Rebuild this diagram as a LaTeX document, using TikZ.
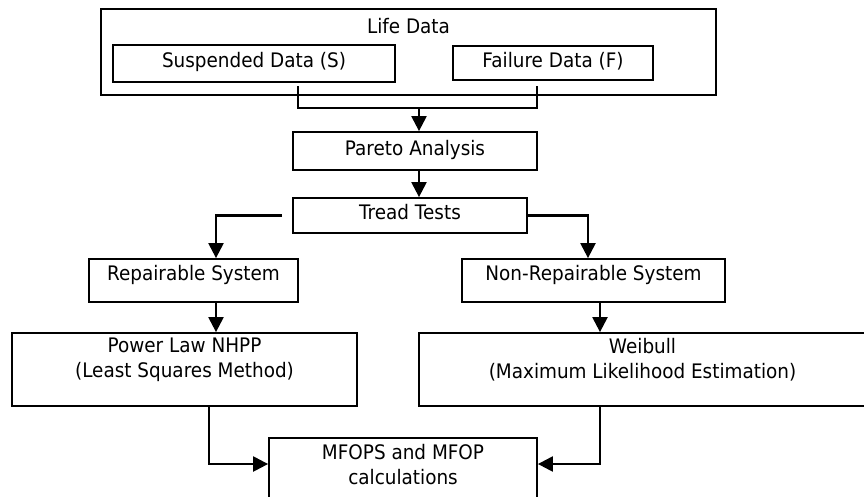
\documentclass[tikz,border=0pt]{standalone}
\usepackage{fontspec}
\setmainfont{DejaVu Sans}[FakeStretch=0.92]
\usetikzlibrary{arrows.meta,positioning}

\begin{document}
\begin{tikzpicture}[x=1pt,y=-1pt,
    every node/.style={font=\fontsize{20}{25}\selectfont},
    box/.style={draw,line width=1.8pt,inner sep=0pt,text height=14.6pt,text depth=6pt},
    flow/.style={line width=2.3pt,-{Triangle[length=15pt,width=15pt]}},
    link/.style={line width=2.3pt}]
    \useasboundingbox (0,0) rectangle (864,496);
    % data boxes
    \node[box,minimum width=615pt,minimum height=86pt] (life) at (408.5,52) {};
    \node[below=10pt of life.north,inner sep=0pt] (lifetxt) {Life Data};
    \node[box,minimum width=282pt,minimum height=37pt] (susp) at (254,63.5) {Suspended Data (S)};
    \node[box,minimum width=200pt,minimum height=34pt] (fail) at (553,63) {Failure Data (F)};
    \node[box,minimum width=244pt,minimum height=38pt] (pareto) at (415,151) {Pareto Analysis};
    \node[box,minimum width=234pt,minimum height=35pt] (tread) at (410,215.5) {Tread Tests};
    \node[box,text depth=15pt,minimum width=209pt,minimum height=43pt] (rep) at (193.5,280.5) {Repairable System};
    \node[box,text depth=15pt,minimum width=263pt,minimum height=43pt] (nonrep) at (593.5,280.5) {Non-Repairable System};
    % models
    \node[box,minimum width=345pt,minimum height=73pt] (power) at (184.5,369.5) {};
    \node[below=6pt of power.north,inner sep=0pt,align=center] (powertxt) {Power Law NHPP\\(Least Squares Method)};
    \node[box,minimum width=447pt,minimum height=73pt] (weibull) at (642.5,369.5) {};
    \node[below=6pt of weibull.north,inner sep=0pt,align=center] (weibulltxt) {Weibull\\(Maximum Likelihood Estimation)};
    \node[box,minimum width=268pt,minimum height=62pt] (mfops) at (403,469) {};
    \node[below=7pt of mfops.north,inner sep=0pt,align=center] (mfopstxt) {MFOPS and MFOP\\calculations};
    % connectors
    \coordinate (sdrop) at (298,86);
    \coordinate (fdrop) at (537,86);
    \coordinate (join) at (419,108);
    \coordinate (tleft) at (282,215.5);
    \coordinate (lx) at (216,0);
    \coordinate (rx) at (588,0);
    \coordinate (wx) at (600,0);
    \coordinate (px) at (209,0);
    \draw[link] (sdrop) |- (join) -| (fdrop);
    \draw[flow] (join) -- (join |- pareto.north);
    \draw[flow] (pareto.south -| join) -- (tread.north -| join);
    \draw[flow] (tleft) -| (rep.north -| lx);
    \draw[flow] (tread.east) -| (nonrep.north -| rx);
    \draw[flow] (rep.south -| lx) -- (power.north -| lx);
    \draw[flow] (nonrep.south -| wx) -- (weibull.north -| wx);
    \draw[flow] (power.south -| px) |- ([yshift=5pt]mfops.west);
    \draw[flow] (weibull.south -| wx) |- ([yshift=5pt]mfops.east);
\end{tikzpicture}
\end{document}
